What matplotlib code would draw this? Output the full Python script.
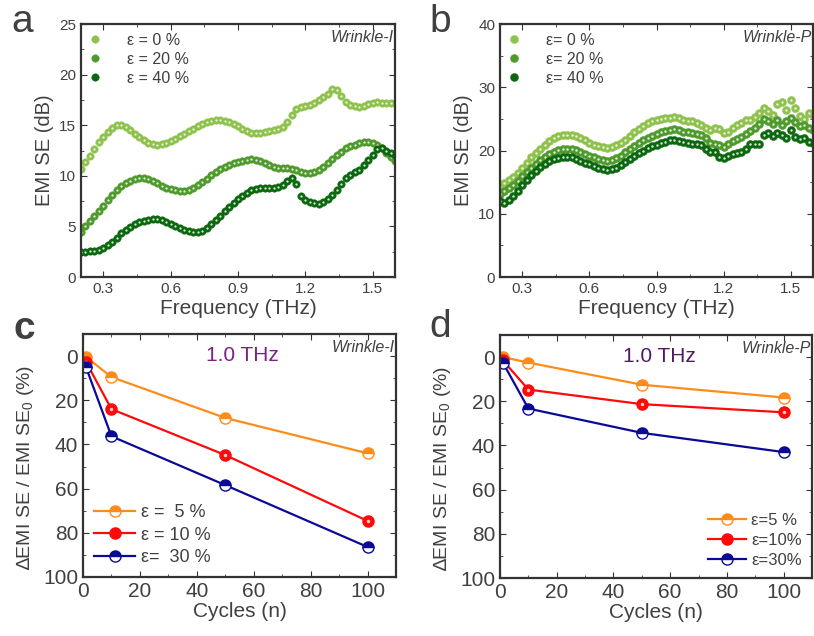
import numpy as np
import matplotlib
matplotlib.use("Agg")
import matplotlib.pyplot as plt
from matplotlib.ticker import MultipleLocator
from matplotlib.legend_handler import HandlerTuple

plt.rcParams.update({
    "font.family": ["Liberation Sans", "DejaVu Sans"],
    "mathtext.default": "regular",
    "text.color": "#404040",
    "axes.labelcolor": "#404040",
    "xtick.color": "#333333",
    "ytick.color": "#333333",
    "xtick.labelcolor": "#404040",
    "ytick.labelcolor": "#404040",
    "axes.edgecolor": "#333333",
    "axes.linewidth": 1.6,
    "xtick.direction": "in",
    "ytick.direction": "in",
    "xtick.top": True,
    "ytick.right": True,
    "xtick.minor.visible": True,
    "ytick.minor.visible": True,
    "xtick.major.size": 4,
    "ytick.major.size": 4,
    "xtick.minor.size": 2.5,
    "ytick.minor.size": 2.5,
    "xtick.labelsize": 11,
    "ytick.labelsize": 11,
})

# ---- data -------------------------------------------------------------
freq = np.round(np.linspace(0.2, 1.6, 71), 2)

# panel a: Wrinkle-I
a_e0 = [10.7, 11.4, 12.0, 12.6, 13.3, 13.8, 14.3, 14.7, 15.0, 15.0,
        14.8, 14.5, 14.1, 13.8, 13.5, 13.2, 13.1, 13.0, 13.1, 13.2,
        13.4, 13.6, 13.9, 14.1, 14.4, 14.6, 14.9, 15.1, 15.3, 15.4,
        15.5, 15.5, 15.4, 15.3, 15.1, 14.9, 14.6, 14.4, 14.2, 14.2,
        14.2, 14.3, 14.4, 14.5, 14.6, 14.8, 15.3, 16.0, 16.6, 16.8,
        16.9, 17.0, 17.2, 17.5, 17.8, 18.1, 18.6, 18.5, 17.9, 17.3,
        17.0, 16.9, 16.8, 16.9, 17.1, 17.2, 17.3, 17.2, 17.2, 17.2,
        17.2]
a_e20 = [4.4, 5.0, 5.5, 6.0, 6.5, 7.0, 7.6, 8.1, 8.6, 9.0,
         9.3, 9.5, 9.7, 9.8, 9.8, 9.7, 9.5, 9.3, 9.0, 8.8,
         8.7, 8.6, 8.5, 8.5, 8.6, 8.8, 9.1, 9.4, 9.7, 10.1,
         10.4, 10.7, 10.9, 11.1, 11.3, 11.4, 11.5, 11.6, 11.7, 11.6,
         11.5, 11.3, 11.1, 10.9, 10.8, 10.8, 10.8, 10.7, 10.6, 10.4,
         10.3, 10.3, 10.4, 10.6, 10.9, 11.3, 11.7, 12.1, 12.4, 12.7,
         12.9, 13.0, 13.2, 13.3, 13.3, 13.2, 13.0, 12.7, 12.3, 11.9,
         11.5]
a_e40 = [2.5, 2.5, 2.6, 2.6, 2.7, 2.9, 3.2, 3.5, 3.9, 4.3,
         4.6, 4.9, 5.2, 5.4, 5.5, 5.6, 5.7, 5.7, 5.6, 5.4,
         5.2, 5.0, 4.8, 4.6, 4.5, 4.4, 4.4, 4.5, 4.8, 5.2,
         5.6, 6.0, 6.5, 6.9, 7.3, 7.7, 8.0, 8.3, 8.6, 8.7,
         8.8, 8.8, 8.8, 8.8, 8.9, 9.1, 9.5, 9.8, 9.2, 8.0,
         7.6, 7.4, 7.3, 7.2, 7.4, 7.7, 8.1, 8.6, 9.2, 9.8,
         10.1, 10.4, 10.6, 11.1, 11.6, 12.1, 12.6, 12.7, 12.5, 12.3,
         12.1]

# panel b: Wrinkle-P
b_e0 = [14.2, 14.8, 15.3, 15.8, 16.5, 17.3, 18.1, 18.9, 19.6, 20.3,
        20.9, 21.5, 21.9, 22.3, 22.5, 22.5, 22.5, 22.3, 22.0, 21.6,
        21.2, 20.9, 20.7, 20.5, 20.4, 20.5, 20.8, 21.2, 21.7, 22.3,
        22.9, 23.4, 23.9, 24.3, 24.6, 24.8, 25.0, 25.1, 25.2, 25.3,
        25.1, 24.9, 24.7, 24.6, 24.4, 24.1, 23.6, 23.2, 23.5, 23.4,
        22.7, 22.9, 23.6, 24.0, 24.3, 24.8, 24.9, 25.3, 26.0, 26.7,
        26.2, 25.6, 27.3, 27.6, 26.4, 28.0, 26.7, 25.4, 25.0, 25.9,
        25.6]
b_e20 = [13.2, 13.6, 14.1, 14.6, 15.2, 15.9, 16.6, 17.3, 17.9, 18.5,
         19.0, 19.4, 19.8, 20.1, 20.3, 20.3, 20.3, 20.1, 19.8, 19.5,
         19.2, 18.9, 18.7, 18.5, 18.4, 18.5, 18.8, 19.2, 19.7, 20.2,
         20.7, 21.2, 21.6, 22.0, 22.3, 22.6, 22.9, 23.1, 23.3, 23.4,
         23.2, 23.0, 22.9, 22.8, 22.6, 22.4, 21.9, 21.2, 21.0, 20.9,
         20.6, 21.0, 21.5, 21.8, 22.2, 22.6, 23.1, 23.5, 24.2, 25.0,
         24.6, 24.2, 24.8, 24.0, 24.6, 25.2, 24.5, 23.8, 24.0, 23.5,
         23.2]
b_e40 = [12.0, 11.7, 12.1, 12.8, 13.6, 14.5, 15.3, 16.1, 16.8, 17.4,
         17.9, 18.3, 18.6, 18.8, 19.0, 19.0, 18.9, 18.7, 18.4, 18.1,
         17.8, 17.5, 17.2, 17.0, 16.9, 17.0, 17.3, 17.7, 18.2, 18.7,
         19.2, 19.6, 20.0, 20.4, 20.7, 20.9, 21.2, 21.4, 21.6, 21.7,
         21.5, 21.3, 21.2, 21.1, 21.0, 20.8, 20.2, 19.8, 19.7, 19.0,
         18.8, 19.2, 19.5, 19.6, 19.8, 20.2, 21.0, 21.1, 21.0, 22.5,
         22.8, 22.3, 22.8, 22.4, 22.0, 23.2, 22.2, 21.8, 22.0, 21.4,
         21.2]

# panels c, d: cycling at 1.0 THz
cycles = [1, 10, 50, 100]
c_e5 = [0.3, 9.5, 28.0, 44.0]
c_e10 = [2.5, 24.0, 44.8, 74.6]
c_e30 = [4.8, 36.3, 58.4, 86.4]
d_e5 = [0.0, 2.5, 12.5, 18.3]
d_e10 = [1.5, 14.7, 21.3, 25.0]
d_e30 = [2.5, 23.3, 34.3, 43.0]

greens = ["#8fc24d", "#4f9a2c", "#0c680f"]
line_cols = ["#ff8c1a", "#ff0a0a", "#0a0a96"]

W, H = 814, 636
fig = plt.figure(figsize=(W / 100, H / 100), dpi=100)


def add_ax(l, t, r, b):
    return fig.add_axes([l / W, 1 - b / H, (r - l) / W, (b - t) / H])


def dots(ax, x, y, col, ms):
    main, = ax.plot(x, y, "o", ls="none", color=col, ms=ms, mec=col, mew=0.3)
    hl, = ax.plot(x, y, "o", ls="none", color="white", ms=ms * 0.3, mew=0, alpha=0.85)
    return (main, hl)


def spectrum_panel(ax, series, labels, ymax, ystep, tag, ms):
    handles = []
    for y, c in zip(series, greens):
        handles.append(dots(ax, freq, y, c, ms))
    ax.set_xlim(0.2, 1.6)
    ax.set_ylim(0, ymax)
    ax.xaxis.set_major_locator(MultipleLocator(0.3))
    ax.xaxis.set_minor_locator(MultipleLocator(0.15))
    ax.yaxis.set_major_locator(MultipleLocator(ystep))
    ax.yaxis.set_minor_locator(MultipleLocator(ystep / 2))
    ax.set_xlabel("Frequency (THz)", fontsize=15, labelpad=2)
    ax.set_ylabel("EMI SE (dB)", fontsize=14.5, labelpad=4)
    ax.text(0.995, 0.975, tag, transform=ax.transAxes, ha="right", va="top",
            fontsize=11.5, style="italic", color="#404040")
    ax.legend(handles, labels, loc="upper left", frameon=False, fontsize=11.5,
              handler_map={tuple: HandlerTuple(ndivide=None, pad=0)},
              handlelength=1.4, handletextpad=0.9, labelspacing=0.25,
              borderaxespad=0.15, markerscale=1.0)


def cycle_panel(ax, series, labels, tag, thz_col, leg_loc, leg_font):
    fills = ["top", "full", "top"]
    for y, c, fs, lab in zip(series, line_cols, fills, labels):
        ax.plot(cycles, y, "-o", color=c, lw=1.6, ms=8, fillstyle=fs,
                mfc=c, mfcalt="white", mec=c, mew=1.0, label=lab)
        if fs == "full":
            ax.plot(cycles, y, "o", ls="none", color="white", ms=2.5, mew=0, alpha=0.8)
    ax.set_xlim(0, 110)
    ax.set_ylim(100, -10)
    ax.xaxis.set_major_locator(MultipleLocator(20))
    ax.xaxis.set_minor_locator(MultipleLocator(10))
    ax.yaxis.set_major_locator(MultipleLocator(20))
    ax.yaxis.set_minor_locator(MultipleLocator(10))
    ax.tick_params(labelsize=15)
    ax.set_xlabel("Cycles (n)", fontsize=15, labelpad=1)
    ax.set_ylabel("\u2206EMI SE / EMI SE$_0$ (%)", fontsize=14, labelpad=2)
    ax.yaxis.set_label_coords(-0.15, 0.45)
    ax.text(0.995, 0.975, tag, transform=ax.transAxes, ha="right", va="top",
            fontsize=11.5, style="italic", color="#404040")
    ax.text(0.51, 0.95, "1.0 THz", transform=ax.transAxes, ha="center", va="top",
            fontsize=15, color=thz_col)
    ax.legend(loc=leg_loc, frameon=False, fontsize=leg_font, handlelength=2.3,
              handletextpad=0.3, labelspacing=0.3, borderaxespad=0.2)


ax_a = add_ax(81, 24, 395, 277)
spectrum_panel(ax_a, [a_e0, a_e20, a_e40], ["\u03b5 = 0 %", "\u03b5 = 20 %", "\u03b5 = 40 %"],
               25, 5, "Wrinkle-I", 5.4)

ax_b = add_ax(500, 24, 813, 277)
spectrum_panel(ax_b, [b_e0, b_e20, b_e40], ["\u03b5= 0 %", "\u03b5= 20 %", "\u03b5= 40 %"],
               40, 10, "Wrinkle-P", 5.8)

ax_c = add_ax(83, 334, 396, 577)
cycle_panel(ax_c, [c_e5, c_e10, c_e30], ["\u03b5 =  5 %", "\u03b5 = 10 %", "\u03b5=  30 %"],
            "Wrinkle-I", "#7d1f87", "lower left", 13)

ax_d = add_ax(500, 335, 812, 578)
cycle_panel(ax_d, [d_e5, d_e10, d_e30], ["\u03b5=5 %", "\u03b5=10%", "\u03b5=30%"],
            "Wrinkle-P", "#521a63", "lower right", 12)

for lab, (x, y) in zip("abcd", [(22, 22), (440, 22), (24, 329), (440, 327)]):
    fig.text(x / W, 1 - y / H, lab, fontsize=28, ha="center", va="center",
             color="#404040", fontweight="bold" if lab == "c" else "normal")

fig.savefig("out.png", dpi=100)
